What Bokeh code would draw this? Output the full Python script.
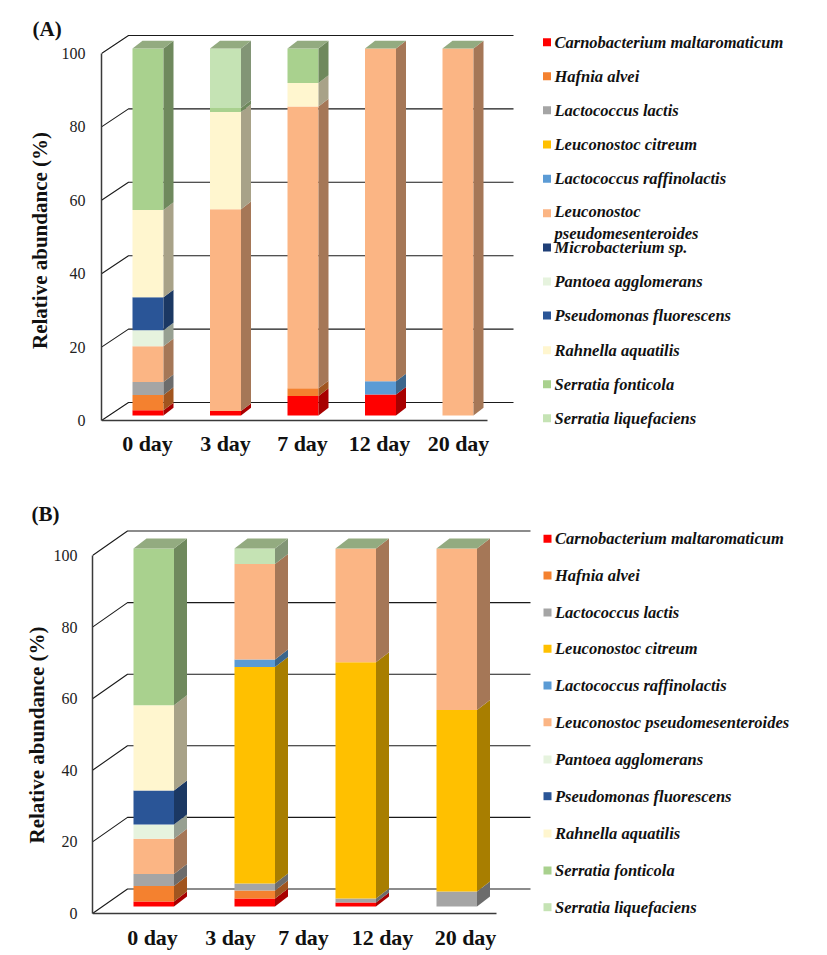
from bokeh.core.properties import value
from bokeh.embed import file_html
from bokeh.models import FixedTicker, Range1d, Title
from bokeh.plotting import figure
from bokeh.resources import INLINE

# ---------------- data ----------------
y_ticks = [0, 20, 40, 60, 80, 100]
day_labels = ["0 day", "3 day", "7 day", "12 day", "20 day"]
y_title = "Relative abundance (%)"

species_a = ["Carnobacterium maltaromaticum", "Hafnia alvei", "Lactococcus lactis",
             "Leuconostoc citreum", "Lactococcus raffinolactis",
             "Leuconostoc\npseudomesenteroides", "Microbacterium sp.", "Pantoea agglomerans",
             "Pseudomonas fluorescens", "Rahnella aquatilis", "Serratia fonticola",
             "Serratia liquefaciens"]
colors_a = ["#FF0000", "#F4812F", "#A5A5A5", "#FFC000", "#5B9BD5", "#FBB584", "#1F3F77",
            "#E6F3DE", "#2A5597", "#FFF6CF", "#A9D18E", "#C5E3B4"]

# shares in % per day (0, 3, 7, 12, 20)
a_carnobacterium = [1.4, 1.2, 5.3, 5.7, 0]
a_hafnia = [4.2, 0, 2.1, 0, 0]
a_lactis = [3.5, 0, 0, 0, 0]
a_citreum = [0, 0, 0, 0, 0]
a_raffinolactis = [0, 0, 0, 3.6, 0]
a_pseudomes = [9.8, 55.0, 76.8, 90.7, 100]
a_microbacterium = [0, 0, 0, 0, 0]
a_pantoea = [4.3, 0, 0, 0, 0]
a_pseudomonas = [9.0, 0, 0, 0, 0]
a_rahnella = [23.8, 26.5, 6.4, 0, 0]
a_fonticola = [44.0, 1.1, 9.4, 0, 0]
a_liquefaciens = [0, 16.2, 0, 0, 0]
series_a = [a_carnobacterium, a_hafnia, a_lactis, a_citreum, a_raffinolactis, a_pseudomes,
            a_microbacterium, a_pantoea, a_pseudomonas, a_rahnella, a_fonticola, a_liquefaciens]

species_b = ["Carnobacterium maltaromaticum", "Hafnia alvei", "Lactococcus lactis",
             "Leuconostoc citreum", "Lactococcus raffinolactis",
             "Leuconostoc pseudomesenteroides", "Pantoea agglomerans",
             "Pseudomonas fluorescens", "Rahnella aquatilis", "Serratia fonticola",
             "Serratia liquefaciens"]
colors_b = ["#FF0000", "#F4812F", "#A5A5A5", "#FFC000", "#5B9BD5", "#FBB584",
            "#E6F3DE", "#2A5597", "#FFF6CF", "#A9D18E", "#C5E3B4"]

# four bars are drawn in panel B, under five day labels
b_carnobacterium = [1.4, 2.2, 1.1, 0]
b_hafnia = [4.3, 2.3, 0, 0]
b_lactis = [3.4, 1.9, 1.1, 4.2]
b_citreum = [0, 60.5, 66.0, 50.7]
b_raffinolactis = [0, 2.1, 0, 0]
b_pseudomes = [9.8, 26.7, 31.8, 45.1]
b_pantoea = [4.0, 0, 0, 0]
b_pseudomonas = [9.5, 0, 0, 0]
b_rahnella = [23.8, 0, 0, 0]
b_fonticola = [43.8, 0, 0, 0]
b_liquefaciens = [0, 4.3, 0, 0]
series_b = [b_carnobacterium, b_hafnia, b_lactis, b_citreum, b_raffinolactis, b_pseudomes,
            b_pantoea, b_pseudomonas, b_rahnella, b_fonticola, b_liquefaciens]

# ---------------- style / layout ----------------
SERIF = "Liberation Serif"
TOP_COLOR = "#93AB80"
WIDTH = 819


def darker(hex_color, k=0.66):
    r, g, b = (int(hex_color[i:i + 2], 16) for i in (1, 3, 5))
    return "#%02X%02X%02X" % (int(r * k), int(g * k), int(b * k))


def panel(cfg):
    s = cfg["scale"]          # px per percent
    to_val = lambda py: (cfg["y0"] - py) / s
    fig_h = cfg["fig_bottom"] - cfg["fig_top"]
    p = figure(
        width=WIDTH, height=fig_h, output_backend="svg", toolbar_location=None, tools="",
        x_range=Range1d(cfg["ax_x"], WIDTH),
        y_range=Range1d(to_val(cfg["frame_bottom"]), to_val(cfg["frame_top"])),
        min_border_left=cfg["ax_x"], min_border_right=0,
        min_border_top=cfg["frame_top"] - cfg["fig_top"],
        min_border_bottom=cfg["fig_bottom"] - cfg["frame_bottom"],
        outline_line_color=None, background_fill_color="white",
    )
    p.grid.visible = False

    # back wall grid lines and floor/wall diagonals
    wall_dx, wall_dv = cfg["wall_dx"], cfg["wall_dy"] / s
    p.multi_line(
        xs=[[cfg["ax_x"], cfg["ax_x"] + wall_dx, cfg["wall_right"]] for _ in y_ticks],
        ys=[[v, v + wall_dv, v + wall_dv] for v in y_ticks],
        line_color="#1A1A1A", line_width=1.1,
    )

    # bars
    dx, dv = cfg["bar_dx"], cfg["bar_dy"] / s
    base = cfg["bar_base"] / s
    w = cfg["bar_w"]
    n_bars = len(cfg["series"][0])
    lefts = [cfg["bar_x0"] + cfg["bar_step"] * i for i in range(n_bars)]
    cum = [0.0] * n_bars
    sides = []
    for vals, col, name in zip(cfg["series"], cfg["colors"], cfg["species"]):
        xs, bottoms, tops = [], [], []
        for i, v in enumerate(vals):
            if v > 0:
                xs.append(lefts[i] + w / 2)
                bottoms.append(cum[i] + base)
                tops.append(cum[i] + v + base)
                sides.append(((lefts[i] + w, cum[i] + base, cum[i] + v + base), darker(col)))
                cum[i] += v
        if xs:
            p.vbar(x=xs, bottom=bottoms, top=tops, width=w, fill_color=col, line_color=None,
                   name=name.replace("\n", " "))
    p.patches(
        xs=[[x, x + dx, x + dx, x] for (x, _, _), _ in sides],
        ys=[[lo, lo + dv, hi + dv, hi] for (_, lo, hi), _ in sides],
        fill_color=[c for _, c in sides], line_color=None,
    )
    p.patches(
        xs=[[l, l + dx, l + w + dx, l + w] for l in lefts],
        ys=[[c + base, c + base + dv, c + base + dv, c + base] for c in cum],
        fill_color=TOP_COLOR, line_color=None,
    )

    # axes
    for ax in (p.xaxis[0], p.yaxis[0]):
        ax.major_tick_line_color = None
        ax.minor_tick_line_color = None
        ax.axis_line_color = "#3A3A3A"
        ax.axis_line_width = 1.5

    xa = p.xaxis[0]
    xa.fixed_location = 0
    xa.bounds = (cfg["ax_x"], cfg["base_right"])
    xa.ticker = FixedTicker(ticks=cfg["label_x"])
    xa.major_label_overrides = dict(zip(cfg["label_x"], day_labels))
    xa.major_label_text_font = SERIF
    xa.major_label_text_font_style = "bold"
    xa.major_label_text_font_size = "22px"
    xa.major_label_text_color = "#111111"
    xa.major_label_standoff = cfg["x_standoff"]

    ya = p.yaxis[0]
    ya.bounds = (0, 100)
    ya.ticker = FixedTicker(ticks=y_ticks)
    ya.major_label_text_font = SERIF
    ya.major_label_text_font_size = "16px"
    ya.major_label_text_color = "#222222"
    ya.major_label_standoff = cfg["y_standoff"]
    ya.axis_label = y_title
    ya.axis_label_text_font = SERIF
    ya.axis_label_text_font_style = "bold"
    ya.axis_label_text_font_size = "21px"
    ya.axis_label_text_color = "#111111"
    ya.axis_label_standoff = cfg["title_standoff"]

    # legend
    ly = [to_val(py) for py in cfg["legend_y"]]
    p.scatter(x=[cfg["legend_x"]] * len(ly), y=ly, marker="square", size=8,
              fill_color=cfg["colors"], line_color=None)
    p.text(x=[cfg["legend_x"] + 7.5] * len(ly), y=[to_val(py) for py in cfg["legend_text_y"]],
           text=cfg["species"], text_font=value(SERIF), text_font_style="bold italic",
           text_font_size="16.5px", text_color="#111111", text_baseline="middle",
           text_line_height=1.15)

    # panel letter, as the plot's title pulled over the frame edge
    p.add_layout(Title(text=cfg["tag"], align="left", offset=cfg["tag_x"] - cfg["ax_x"],
                       standoff=cfg["tag_standoff"], text_font=SERIF, text_font_style="bold",
                       text_font_size="21px", text_color="#111111"), "above")
    return p


legend_ya = [41.7, 75.7, 109.7, 144, 178.3, 212.7, 247, 281, 315, 349.7, 383.7, 417.7]
legend_yb = [538.3, 575, 612, 648.3, 685, 721.7, 759, 795.7, 833, 870, 906.7]

pa = panel(dict(
    series=series_a, colors=colors_a, species=species_a, tag="(A)", tag_x=32, tag_standoff=-41,
    fig_top=0, fig_bottom=480, frame_top=20, frame_bottom=460,
    ax_x=101, y0=420, scale=3.67, wall_dx=27, wall_dy=18, wall_right=513, base_right=487,
    bar_x0=132, bar_step=77.5, bar_w=31, bar_dx=10, bar_dy=7.7, bar_base=5,
    label_x=[147, 225, 302, 379, 458],
    x_standoff=4, y_standoff=10, title_standoff=7,
    legend_x=546.5, legend_y=legend_ya,
    legend_text_y=[y + (9.5 if "\n" in s else 0) for y, s in zip(legend_ya, species_a)],
))

pb = panel(dict(
    series=series_b, colors=colors_b, species=species_b, tag="(B)", tag_x=31, tag_standoff=-12,
    fig_top=480, fig_bottom=950, frame_top=519, frame_bottom=950,
    ax_x=92, y0=913, scale=3.58, wall_dx=35, wall_dy=24.5, wall_right=530, base_right=496,
    bar_x0=133, bar_step=101, bar_w=40.5, bar_dx=13, bar_dy=10, bar_base=7,
    label_x=[152, 230, 303, 382, 465],
    x_standoff=5, y_standoff=9, title_standoff=2,
    legend_x=547, legend_y=legend_yb, legend_text_y=legend_yb,
))

open("out.html", "w").write(file_html([pa, pb], INLINE))
